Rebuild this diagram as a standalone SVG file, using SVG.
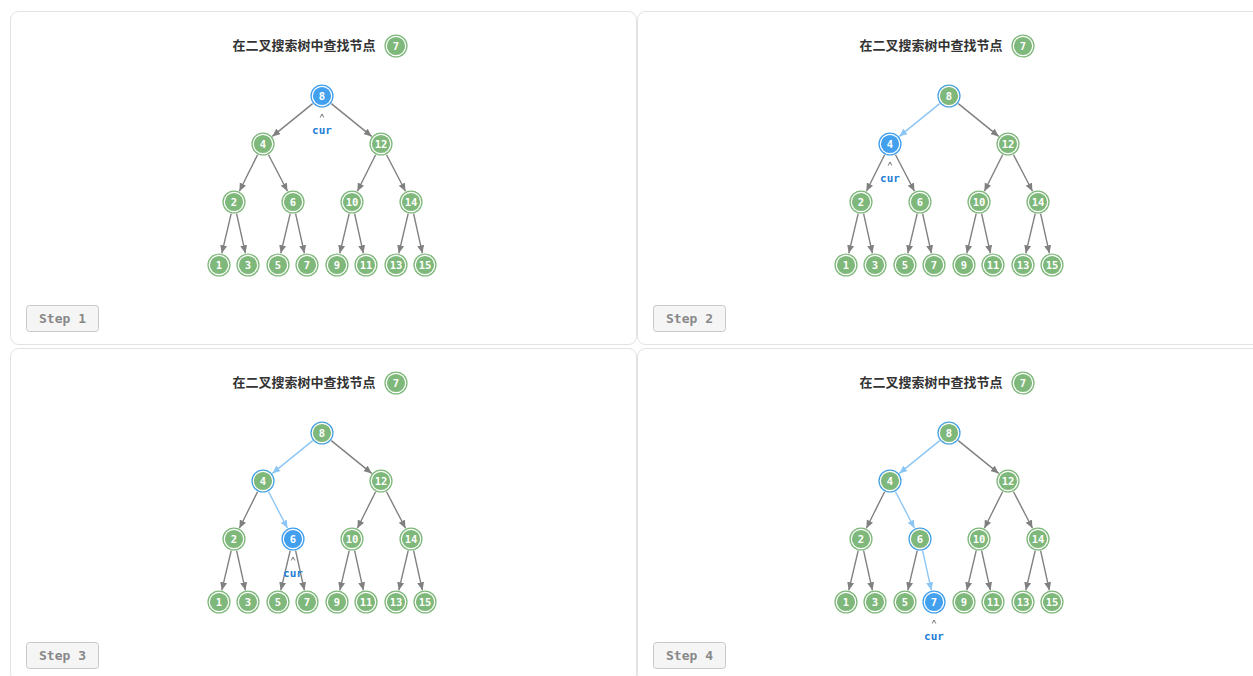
<svg xmlns="http://www.w3.org/2000/svg" width="1253" height="676" viewBox="0 0 1253 676">
<defs>
<style>
.panel{fill:#fff;stroke:#e2e2e2;stroke-width:1}
.title{font-family:"Noto Sans CJK SC","Liberation Sans",sans-serif;font-weight:bold;font-size:13px;fill:#333;text-anchor:middle}
.n .o{fill:#7fb87b;stroke:#7fb87b;stroke-width:1.2}
.n .i{fill:none;stroke:#fff;stroke-width:1.2}
.n.vis .o{stroke:#42a0ee}
.n.cur .o{fill:#42a0ee;stroke:#42a0ee}
.n text{font-family:"DejaVu Sans Mono","Liberation Mono",monospace;font-weight:bold;font-size:10.5px;fill:#fff;text-anchor:middle}
.e{stroke:#808080;stroke-width:1.4;fill:none;marker-end:url(#ag)}
.e.b{stroke:#8cc6f5;marker-end:url(#ab)}
.step rect{fill:#f5f5f5;stroke:#c9c9c9;stroke-width:1}
.step text{font-family:"DejaVu Sans Mono","Liberation Mono",monospace;font-weight:bold;font-size:13px;fill:#888;text-anchor:middle}
.curl path{fill:none;stroke:#555;stroke-width:0.8}
.curl text{font-family:"DejaVu Sans Mono","Liberation Mono",monospace;font-weight:bold;font-size:11px;fill:#1f80d6;text-anchor:middle}
</style>
<marker id="ag" viewBox="0 0 8 8" refX="8" refY="4" markerWidth="8" markerHeight="8" markerUnits="userSpaceOnUse" orient="auto"><path d="M0,0.5 L8,4 L0,7.5 Z" fill="#808080"/></marker>
<marker id="ab" viewBox="0 0 8 8" refX="8" refY="4" markerWidth="8" markerHeight="8" markerUnits="userSpaceOnUse" orient="auto"><path d="M0,0.5 L8,4 L0,7.5 Z" fill="#8cc6f5"/></marker>
</defs>
<rect width="1253" height="676" fill="#fff"/>

<!-- Panel 1 -->
<g id="panel1">
<rect class="panel" x="10.5" y="11.5" width="626" height="333" rx="8"/>
<text class="title" x="304" y="50">在二叉搜索树中查找节点</text>
<g id="p1-target" class="n" transform="translate(396,46)"><circle class="o" r="11"/><circle class="i" r="9.7"/><text y="3.8">7</text></g>
<g id="p1-edges">
<line class="e" x1="312.7" y1="103.6" x2="272.3" y2="136.4"/>
<line class="e" x1="331.3" y1="103.6" x2="371.7" y2="136.4"/>
<line class="e" x1="257.6" y1="154.7" x2="239.4" y2="191.3"/>
<line class="e" x1="268.5" y1="154.7" x2="287.5" y2="191.3"/>
<line class="e" x1="375.6" y1="154.7" x2="357.4" y2="191.3"/>
<line class="e" x1="386.5" y1="154.7" x2="405.5" y2="191.3"/>
<line class="e" x1="231.2" y1="213.7" x2="221.8" y2="253.3"/>
<line class="e" x1="236.6" y1="213.7" x2="245.4" y2="253.3"/>
<line class="e" x1="290.2" y1="213.7" x2="280.8" y2="253.3"/>
<line class="e" x1="295.6" y1="213.7" x2="304.4" y2="253.3"/>
<line class="e" x1="349.2" y1="213.7" x2="339.8" y2="253.3"/>
<line class="e" x1="354.6" y1="213.7" x2="363.4" y2="253.3"/>
<line class="e" x1="408.2" y1="213.7" x2="398.8" y2="253.3"/>
<line class="e" x1="413.6" y1="213.7" x2="422.4" y2="253.3"/>
</g>
<g id="p1-n8" class="n cur" transform="translate(322,96)"><circle class="o" r="11"/><circle class="i" r="9.7"/><text y="3.8">8</text></g>
<g id="p1-n4" class="n" transform="translate(263,144)"><circle class="o" r="11"/><circle class="i" r="9.7"/><text y="3.8">4</text></g>
<g id="p1-n12" class="n" transform="translate(381,144)"><circle class="o" r="11"/><circle class="i" r="9.7"/><text y="3.8">12</text></g>
<g id="p1-n2" class="n" transform="translate(234,202)"><circle class="o" r="11"/><circle class="i" r="9.7"/><text y="3.8">2</text></g>
<g id="p1-n6" class="n" transform="translate(293,202)"><circle class="o" r="11"/><circle class="i" r="9.7"/><text y="3.8">6</text></g>
<g id="p1-n10" class="n" transform="translate(352,202)"><circle class="o" r="11"/><circle class="i" r="9.7"/><text y="3.8">10</text></g>
<g id="p1-n14" class="n" transform="translate(411,202)"><circle class="o" r="11"/><circle class="i" r="9.7"/><text y="3.8">14</text></g>
<g id="p1-n1" class="n" transform="translate(219,265)"><circle class="o" r="11"/><circle class="i" r="9.7"/><text y="3.8">1</text></g>
<g id="p1-n3" class="n" transform="translate(248,265)"><circle class="o" r="11"/><circle class="i" r="9.7"/><text y="3.8">3</text></g>
<g id="p1-n5" class="n" transform="translate(278,265)"><circle class="o" r="11"/><circle class="i" r="9.7"/><text y="3.8">5</text></g>
<g id="p1-n7" class="n" transform="translate(307,265)"><circle class="o" r="11"/><circle class="i" r="9.7"/><text y="3.8">7</text></g>
<g id="p1-n9" class="n" transform="translate(337,265)"><circle class="o" r="11"/><circle class="i" r="9.7"/><text y="3.8">9</text></g>
<g id="p1-n11" class="n" transform="translate(366,265)"><circle class="o" r="11"/><circle class="i" r="9.7"/><text y="3.8">11</text></g>
<g id="p1-n13" class="n" transform="translate(396,265)"><circle class="o" r="11"/><circle class="i" r="9.7"/><text y="3.8">13</text></g>
<g id="p1-n15" class="n" transform="translate(425,265)"><circle class="o" r="11"/><circle class="i" r="9.7"/><text y="3.8">15</text></g>
<g id="p1-cur" class="curl" transform="translate(322,96)"><path d="M-1.8,21.5 L0,18 L1.8,21.5"/><text y="38">cur</text></g>
<g id="p1-step" class="step"><rect x="26.5" y="305.5" width="72" height="26" rx="3"/><text x="62.5" y="323">Step 1</text></g>
</g>

<!-- Panel 2 -->
<g id="panel2" transform="translate(627,0)">
<rect class="panel" x="10.5" y="11.5" width="626" height="333" rx="8"/>
<text class="title" x="304" y="50">在二叉搜索树中查找节点</text>
<g id="p2-target" class="n" transform="translate(396,46)"><circle class="o" r="11"/><circle class="i" r="9.7"/><text y="3.8">7</text></g>
<g id="p2-edges">
<line class="e b" x1="312.7" y1="103.6" x2="272.3" y2="136.4"/>
<line class="e" x1="331.3" y1="103.6" x2="371.7" y2="136.4"/>
<line class="e" x1="257.6" y1="154.7" x2="239.4" y2="191.3"/>
<line class="e" x1="268.5" y1="154.7" x2="287.5" y2="191.3"/>
<line class="e" x1="375.6" y1="154.7" x2="357.4" y2="191.3"/>
<line class="e" x1="386.5" y1="154.7" x2="405.5" y2="191.3"/>
<line class="e" x1="231.2" y1="213.7" x2="221.8" y2="253.3"/>
<line class="e" x1="236.6" y1="213.7" x2="245.4" y2="253.3"/>
<line class="e" x1="290.2" y1="213.7" x2="280.8" y2="253.3"/>
<line class="e" x1="295.6" y1="213.7" x2="304.4" y2="253.3"/>
<line class="e" x1="349.2" y1="213.7" x2="339.8" y2="253.3"/>
<line class="e" x1="354.6" y1="213.7" x2="363.4" y2="253.3"/>
<line class="e" x1="408.2" y1="213.7" x2="398.8" y2="253.3"/>
<line class="e" x1="413.6" y1="213.7" x2="422.4" y2="253.3"/>
</g>
<g id="p2-n8" class="n vis" transform="translate(322,96)"><circle class="o" r="11"/><circle class="i" r="9.7"/><text y="3.8">8</text></g>
<g id="p2-n4" class="n cur" transform="translate(263,144)"><circle class="o" r="11"/><circle class="i" r="9.7"/><text y="3.8">4</text></g>
<g id="p2-n12" class="n" transform="translate(381,144)"><circle class="o" r="11"/><circle class="i" r="9.7"/><text y="3.8">12</text></g>
<g id="p2-n2" class="n" transform="translate(234,202)"><circle class="o" r="11"/><circle class="i" r="9.7"/><text y="3.8">2</text></g>
<g id="p2-n6" class="n" transform="translate(293,202)"><circle class="o" r="11"/><circle class="i" r="9.7"/><text y="3.8">6</text></g>
<g id="p2-n10" class="n" transform="translate(352,202)"><circle class="o" r="11"/><circle class="i" r="9.7"/><text y="3.8">10</text></g>
<g id="p2-n14" class="n" transform="translate(411,202)"><circle class="o" r="11"/><circle class="i" r="9.7"/><text y="3.8">14</text></g>
<g id="p2-n1" class="n" transform="translate(219,265)"><circle class="o" r="11"/><circle class="i" r="9.7"/><text y="3.8">1</text></g>
<g id="p2-n3" class="n" transform="translate(248,265)"><circle class="o" r="11"/><circle class="i" r="9.7"/><text y="3.8">3</text></g>
<g id="p2-n5" class="n" transform="translate(278,265)"><circle class="o" r="11"/><circle class="i" r="9.7"/><text y="3.8">5</text></g>
<g id="p2-n7" class="n" transform="translate(307,265)"><circle class="o" r="11"/><circle class="i" r="9.7"/><text y="3.8">7</text></g>
<g id="p2-n9" class="n" transform="translate(337,265)"><circle class="o" r="11"/><circle class="i" r="9.7"/><text y="3.8">9</text></g>
<g id="p2-n11" class="n" transform="translate(366,265)"><circle class="o" r="11"/><circle class="i" r="9.7"/><text y="3.8">11</text></g>
<g id="p2-n13" class="n" transform="translate(396,265)"><circle class="o" r="11"/><circle class="i" r="9.7"/><text y="3.8">13</text></g>
<g id="p2-n15" class="n" transform="translate(425,265)"><circle class="o" r="11"/><circle class="i" r="9.7"/><text y="3.8">15</text></g>
<g id="p2-cur" class="curl" transform="translate(263,144)"><path d="M-1.8,21.5 L0,18 L1.8,21.5"/><text y="38">cur</text></g>
<g id="p2-step" class="step"><rect x="26.5" y="305.5" width="72" height="26" rx="3"/><text x="62.5" y="323">Step 2</text></g>
</g>

<!-- Panel 3 -->
<g id="panel3" transform="translate(0,337)">
<rect class="panel" x="10.5" y="11.5" width="626" height="333" rx="8"/>
<text class="title" x="304" y="50">在二叉搜索树中查找节点</text>
<g id="p3-target" class="n" transform="translate(396,46)"><circle class="o" r="11"/><circle class="i" r="9.7"/><text y="3.8">7</text></g>
<g id="p3-edges">
<line class="e b" x1="312.7" y1="103.6" x2="272.3" y2="136.4"/>
<line class="e" x1="331.3" y1="103.6" x2="371.7" y2="136.4"/>
<line class="e" x1="257.6" y1="154.7" x2="239.4" y2="191.3"/>
<line class="e b" x1="268.5" y1="154.7" x2="287.5" y2="191.3"/>
<line class="e" x1="375.6" y1="154.7" x2="357.4" y2="191.3"/>
<line class="e" x1="386.5" y1="154.7" x2="405.5" y2="191.3"/>
<line class="e" x1="231.2" y1="213.7" x2="221.8" y2="253.3"/>
<line class="e" x1="236.6" y1="213.7" x2="245.4" y2="253.3"/>
<line class="e" x1="290.2" y1="213.7" x2="280.8" y2="253.3"/>
<line class="e" x1="295.6" y1="213.7" x2="304.4" y2="253.3"/>
<line class="e" x1="349.2" y1="213.7" x2="339.8" y2="253.3"/>
<line class="e" x1="354.6" y1="213.7" x2="363.4" y2="253.3"/>
<line class="e" x1="408.2" y1="213.7" x2="398.8" y2="253.3"/>
<line class="e" x1="413.6" y1="213.7" x2="422.4" y2="253.3"/>
</g>
<g id="p3-n8" class="n vis" transform="translate(322,96)"><circle class="o" r="11"/><circle class="i" r="9.7"/><text y="3.8">8</text></g>
<g id="p3-n4" class="n vis" transform="translate(263,144)"><circle class="o" r="11"/><circle class="i" r="9.7"/><text y="3.8">4</text></g>
<g id="p3-n12" class="n" transform="translate(381,144)"><circle class="o" r="11"/><circle class="i" r="9.7"/><text y="3.8">12</text></g>
<g id="p3-n2" class="n" transform="translate(234,202)"><circle class="o" r="11"/><circle class="i" r="9.7"/><text y="3.8">2</text></g>
<g id="p3-n6" class="n cur" transform="translate(293,202)"><circle class="o" r="11"/><circle class="i" r="9.7"/><text y="3.8">6</text></g>
<g id="p3-n10" class="n" transform="translate(352,202)"><circle class="o" r="11"/><circle class="i" r="9.7"/><text y="3.8">10</text></g>
<g id="p3-n14" class="n" transform="translate(411,202)"><circle class="o" r="11"/><circle class="i" r="9.7"/><text y="3.8">14</text></g>
<g id="p3-n1" class="n" transform="translate(219,265)"><circle class="o" r="11"/><circle class="i" r="9.7"/><text y="3.8">1</text></g>
<g id="p3-n3" class="n" transform="translate(248,265)"><circle class="o" r="11"/><circle class="i" r="9.7"/><text y="3.8">3</text></g>
<g id="p3-n5" class="n" transform="translate(278,265)"><circle class="o" r="11"/><circle class="i" r="9.7"/><text y="3.8">5</text></g>
<g id="p3-n7" class="n" transform="translate(307,265)"><circle class="o" r="11"/><circle class="i" r="9.7"/><text y="3.8">7</text></g>
<g id="p3-n9" class="n" transform="translate(337,265)"><circle class="o" r="11"/><circle class="i" r="9.7"/><text y="3.8">9</text></g>
<g id="p3-n11" class="n" transform="translate(366,265)"><circle class="o" r="11"/><circle class="i" r="9.7"/><text y="3.8">11</text></g>
<g id="p3-n13" class="n" transform="translate(396,265)"><circle class="o" r="11"/><circle class="i" r="9.7"/><text y="3.8">13</text></g>
<g id="p3-n15" class="n" transform="translate(425,265)"><circle class="o" r="11"/><circle class="i" r="9.7"/><text y="3.8">15</text></g>
<g id="p3-cur" class="curl" transform="translate(293,202)"><path d="M-1.8,21.5 L0,18 L1.8,21.5"/><text y="38">cur</text></g>
<g id="p3-step" class="step"><rect x="26.5" y="305.5" width="72" height="26" rx="3"/><text x="62.5" y="323">Step 3</text></g>
</g>

<!-- Panel 4 -->
<g id="panel4" transform="translate(627,337)">
<rect class="panel" x="10.5" y="11.5" width="626" height="333" rx="8"/>
<text class="title" x="304" y="50">在二叉搜索树中查找节点</text>
<g id="p4-target" class="n" transform="translate(396,46)"><circle class="o" r="11"/><circle class="i" r="9.7"/><text y="3.8">7</text></g>
<g id="p4-edges">
<line class="e b" x1="312.7" y1="103.6" x2="272.3" y2="136.4"/>
<line class="e" x1="331.3" y1="103.6" x2="371.7" y2="136.4"/>
<line class="e" x1="257.6" y1="154.7" x2="239.4" y2="191.3"/>
<line class="e b" x1="268.5" y1="154.7" x2="287.5" y2="191.3"/>
<line class="e" x1="375.6" y1="154.7" x2="357.4" y2="191.3"/>
<line class="e" x1="386.5" y1="154.7" x2="405.5" y2="191.3"/>
<line class="e" x1="231.2" y1="213.7" x2="221.8" y2="253.3"/>
<line class="e" x1="236.6" y1="213.7" x2="245.4" y2="253.3"/>
<line class="e" x1="290.2" y1="213.7" x2="280.8" y2="253.3"/>
<line class="e b" x1="295.6" y1="213.7" x2="304.4" y2="253.3"/>
<line class="e" x1="349.2" y1="213.7" x2="339.8" y2="253.3"/>
<line class="e" x1="354.6" y1="213.7" x2="363.4" y2="253.3"/>
<line class="e" x1="408.2" y1="213.7" x2="398.8" y2="253.3"/>
<line class="e" x1="413.6" y1="213.7" x2="422.4" y2="253.3"/>
</g>
<g id="p4-n8" class="n vis" transform="translate(322,96)"><circle class="o" r="11"/><circle class="i" r="9.7"/><text y="3.8">8</text></g>
<g id="p4-n4" class="n vis" transform="translate(263,144)"><circle class="o" r="11"/><circle class="i" r="9.7"/><text y="3.8">4</text></g>
<g id="p4-n12" class="n" transform="translate(381,144)"><circle class="o" r="11"/><circle class="i" r="9.7"/><text y="3.8">12</text></g>
<g id="p4-n2" class="n" transform="translate(234,202)"><circle class="o" r="11"/><circle class="i" r="9.7"/><text y="3.8">2</text></g>
<g id="p4-n6" class="n vis" transform="translate(293,202)"><circle class="o" r="11"/><circle class="i" r="9.7"/><text y="3.8">6</text></g>
<g id="p4-n10" class="n" transform="translate(352,202)"><circle class="o" r="11"/><circle class="i" r="9.7"/><text y="3.8">10</text></g>
<g id="p4-n14" class="n" transform="translate(411,202)"><circle class="o" r="11"/><circle class="i" r="9.7"/><text y="3.8">14</text></g>
<g id="p4-n1" class="n" transform="translate(219,265)"><circle class="o" r="11"/><circle class="i" r="9.7"/><text y="3.8">1</text></g>
<g id="p4-n3" class="n" transform="translate(248,265)"><circle class="o" r="11"/><circle class="i" r="9.7"/><text y="3.8">3</text></g>
<g id="p4-n5" class="n" transform="translate(278,265)"><circle class="o" r="11"/><circle class="i" r="9.7"/><text y="3.8">5</text></g>
<g id="p4-n7" class="n cur" transform="translate(307,265)"><circle class="o" r="11"/><circle class="i" r="9.7"/><text y="3.8">7</text></g>
<g id="p4-n9" class="n" transform="translate(337,265)"><circle class="o" r="11"/><circle class="i" r="9.7"/><text y="3.8">9</text></g>
<g id="p4-n11" class="n" transform="translate(366,265)"><circle class="o" r="11"/><circle class="i" r="9.7"/><text y="3.8">11</text></g>
<g id="p4-n13" class="n" transform="translate(396,265)"><circle class="o" r="11"/><circle class="i" r="9.7"/><text y="3.8">13</text></g>
<g id="p4-n15" class="n" transform="translate(425,265)"><circle class="o" r="11"/><circle class="i" r="9.7"/><text y="3.8">15</text></g>
<g id="p4-cur" class="curl" transform="translate(307,265)"><path d="M-1.8,21.5 L0,18 L1.8,21.5"/><text y="38">cur</text></g>
<g id="p4-step" class="step"><rect x="26.5" y="305.5" width="72" height="26" rx="3"/><text x="62.5" y="323">Step 4</text></g>
</g>
</svg>
